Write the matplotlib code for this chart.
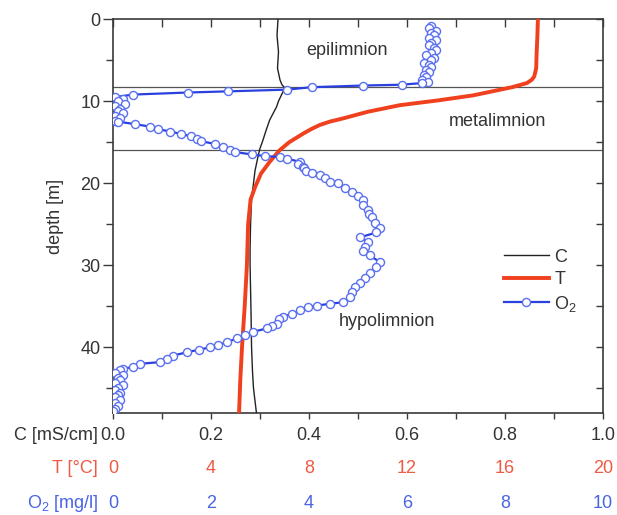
import matplotlib
matplotlib.use('Agg')
import matplotlib.pyplot as plt
from matplotlib.ticker import MultipleLocator

plt.rcParams['font.family'] = ['Liberation Sans', 'DejaVu Sans']
plt.rcParams['mathtext.default'] = 'regular'

# ---------------- data ----------------
# conductivity C [mS/cm]
c_depth = [0.0, 2.0, 4.0, 6.0, 7.4, 8.0, 8.4, 9.0, 10.0, 10.7, 11.5, 12.3, 13.5, 14.8,
           15.8, 16.8, 18.5, 20.5, 22.0, 25.0, 28.0, 30.0, 33.0, 36.0, 40.0, 43.0, 45.0, 47.0, 48.0]
c_vals = [0.337, 0.335, 0.338, 0.336, 0.341, 0.345, 0.351, 0.346, 0.338, 0.334, 0.327, 0.320,
          0.313, 0.306, 0.300, 0.296, 0.290, 0.286, 0.283, 0.281, 0.280, 0.280, 0.281, 0.282,
          0.283, 0.285, 0.287, 0.291, 0.293]

# temperature T [degC]
t_depth = [0.0, 2.0, 4.0, 6.0, 7.0, 7.4, 7.8, 8.3, 9.3, 9.9, 10.5, 11.3, 12.1, 12.5, 12.9,
           13.4, 13.9, 15.0, 16.0, 17.4, 18.8, 20.5, 22.0, 25.0, 30.0, 35.0, 40.0, 44.0, 48.0]
t_vals = [17.35, 17.33, 17.30, 17.28, 17.2, 17.1, 16.9, 16.3, 14.7, 13.3, 11.7, 10.4, 9.4,
          8.85, 8.45, 8.1, 7.8, 7.2, 6.8, 6.4, 6.05, 5.8, 5.62, 5.52, 5.47, 5.38, 5.27, 5.2, 5.15]

# dissolved oxygen O2 [mg/l]
o2_depth = [0.8, 1.1, 1.4, 1.7, 2.0, 2.3, 2.6, 2.9, 3.2, 3.5, 3.8, 4.1, 4.4, 4.7, 5.0, 5.3,
            5.6, 5.9, 6.2, 6.5, 6.8, 7.1, 7.4, 7.7, 7.8,
            8.0, 8.1, 8.3, 8.6, 8.8, 8.95, 9.2, 9.5, 9.8, 10.0, 10.3, 10.6, 10.9, 11.2, 11.5,
            11.8, 12.1, 12.4,
            12.5, 12.8, 13.1, 13.4, 13.7, 14.0, 14.3, 14.6, 14.9, 15.2, 15.6, 15.9, 16.2, 16.5,
            16.7, 16.8, 17.0, 17.4, 17.7, 18.0, 18.2, 18.5, 18.8, 19.0, 19.4, 19.9, 20.0, 20.6,
            21.1, 21.5, 22.1, 22.7, 23.3, 23.7, 24.1, 24.8, 25.5, 26.0, 26.6, 27.2, 27.8, 28.2,
            28.8, 29.6, 30.2, 30.9, 31.5, 32.1, 32.7, 33.3, 33.9, 34.5, 34.7, 34.9, 35.1, 35.5,
            35.9, 36.3, 36.6, 37.1, 37.4, 37.7, 38.1, 38.5, 38.9, 39.4, 39.7, 40.0, 40.3, 40.6,
            41.0, 41.4, 41.8, 42.0, 42.4, 42.6,
            42.8, 43.1, 43.4, 43.7, 44.0, 44.3, 44.6, 44.9, 45.2, 45.5, 45.8, 46.1, 46.4, 46.8,
            47.1, 47.5, 47.8]
o2_vals = [6.5, 6.45, 6.6, 6.5, 6.55, 6.45, 6.6, 6.5, 6.45, 6.55, 6.6, 6.5, 6.4, 6.55, 6.5,
           6.35, 6.45, 6.5, 6.4, 6.45, 6.35, 6.4, 6.3, 6.43, 6.3,
           5.9, 5.1, 4.06, 3.55, 2.35, 1.53, 0.41, 0.05, 0.2, 0.1, 0.25, 0.05, 0.15, 0.1, 0.2,
           0.05, 0.15, 0.05,
           0.1, 0.45, 0.75, 0.92, 1.16, 1.4, 1.6, 1.72, 1.8, 2.08, 2.25, 2.4, 2.49, 2.84,
           3.1, 3.41, 3.55, 3.82, 3.78, 3.88, 3.9, 3.95, 4.06, 4.22, 4.33, 4.43, 4.59, 4.73,
           4.88, 5.0, 5.1, 5.1, 5.2, 5.22, 5.28, 5.35, 5.45, 5.38, 5.04, 5.2, 5.15, 5.1,
           5.24, 5.45, 5.38, 5.24, 5.14, 5.04, 4.94, 4.88, 4.84, 4.69, 4.43, 4.16, 3.98, 3.82,
           3.65, 3.47, 3.4, 3.34, 3.25, 3.14, 2.86, 2.69, 2.53, 2.32, 2.15, 1.98, 1.75, 1.51,
           1.23, 1.1, 0.96, 0.55, 0.41, 0.2,
           0.15, 0.05, 0.2, 0.1, 0.15, 0.05, 0.2, 0.1, 0.05, 0.15, 0.1, 0.05, 0.15, 0.05,
           0.1, 0.05, 0.0]

layer_bounds = [8.3, 15.9]
layer_names = ['epilimnion', 'metalimnion', 'hypolimnion']
layer_pos_x = [0.478, 0.786, 0.56]
layer_pos_depth = [3.8, 12.5, 36.9]

c_ticks = [0.0, 0.2, 0.4, 0.6, 0.8, 1.0]
t_ticks = [0, 4, 8, 12, 16, 20]
o2_ticks = [0, 2, 4, 6, 8, 10]
depth_ticks = [0, 10, 20, 30, 40]

# ---------------- styling ----------------
RED = '#f0401e'
RED_TXT = '#ee5a44'
BLUE = '#2a40e0'
BLUE_MK = '#5a70f0'
BLUE_TXT = '#4a64e4'
GREY = '#3a3a3a'
FS = 13

fig = plt.figure(figsize=(6.17, 5.15), dpi=100)
ax = fig.add_axes([0.183, 0.198, 0.794, 0.765])
ax.set_xlim(0, 1)
ax.set_ylim(48, 0)

axT = ax.twiny()
axT.set_xlim(0, 20)
axO = ax.twiny()
axO.set_xlim(0, 10)

# layer boundaries
for d in layer_bounds:
    ax.axhline(d, color='#555555', lw=0.9, zorder=1)

lc, = ax.plot(c_vals, c_depth, color='#222222', lw=1.0, label='C', zorder=3)
lt, = axT.plot(t_vals, t_depth, color=RED, lw=2.8, label='T', zorder=3)
lo, = axO.plot(o2_vals, o2_depth, color=BLUE, lw=1.6, marker='o', ms=5.8,
               mfc='white', mec=BLUE_MK, mew=1.0, label='O$_2$', zorder=4)

for name, x, d in zip(layer_names, layer_pos_x, layer_pos_depth):
    ax.text(x, d, name, ha='center', va='center', fontsize=FS, color='#333333')

# main axis ticks
ax.xaxis.set_minor_locator(MultipleLocator(0.1))
ax.set_xticks(c_ticks)
ax.set_xticklabels([f'{v:.1f}' for v in c_ticks])
ax.set_yticks(depth_ticks)
ax.yaxis.set_minor_locator(MultipleLocator(5))
ax.tick_params(axis='x', which='both', direction='out', top=False, bottom=True,
               length=4, width=1.0, color=GREY, labelsize=FS, labelcolor='#333333', pad=6)
ax.tick_params(axis='y', which='major', direction='out', left=True, right=False,
               length=7, width=1.0, color=GREY, labelsize=FS, labelcolor='#333333', pad=2)
ax.tick_params(axis='y', which='minor', direction='out', left=True, right=False,
               length=5, width=1.0, color=GREY)
ax.set_ylabel('depth [m]', fontsize=FS, color='#333333', labelpad=12)

for s in ax.spines.values():
    s.set_color(GREY)
    s.set_linewidth(1.2)

# top / right inward ticks
top = ax.secondary_xaxis('top')
top.xaxis.set_major_locator(MultipleLocator(0.1))
top.tick_params(direction='in', length=6, width=1.0, color=GREY, labeltop=False)
top.spines['top'].set_visible(False)
right = ax.secondary_yaxis('right')
right.yaxis.set_major_locator(MultipleLocator(5))
right.tick_params(direction='in', length=5, width=1.0, color=GREY, labelright=False)
right.spines['right'].set_visible(False)

# T and O2 scales as extra label rows below
for a, ticks, col, pos in [(axT, t_ticks, RED_TXT, -0.12), (axO, o2_ticks, BLUE_TXT, -0.207)]:
    a.xaxis.set_ticks_position('bottom')
    a.spines['bottom'].set_position(('axes', pos))
    for s in a.spines.values():
        s.set_visible(False)
    a.set_xticks(ticks)
    a.set_xticklabels([str(v) for v in ticks])
    a.tick_params(axis='x', length=0, labelsize=FS, labelcolor=col, pad=0)

# row labels
row_labels = ['C [mS/cm]', 'T [°C]', 'O$_2$ [mg/l]']
row_colors = ['#333333', RED_TXT, BLUE_TXT]
row_y = [-0.056, -0.142, -0.230]
for lab, col, y in zip(row_labels, row_colors, row_y):
    ax.text(-0.03, y, lab, transform=ax.transAxes, ha='right', va='center',
            fontsize=FS, color=col)

leg = ax.legend(handles=[lc, lt, lo], loc='upper left', bbox_to_anchor=(0.798, 0.417),
                frameon=False, fontsize=FS, handlelength=2.5, handletextpad=0.3,
                labelspacing=0.3, borderpad=0, borderaxespad=0)
for txt in leg.get_texts():
    txt.set_color('#333333')

fig.savefig('out.png', dpi=100)
